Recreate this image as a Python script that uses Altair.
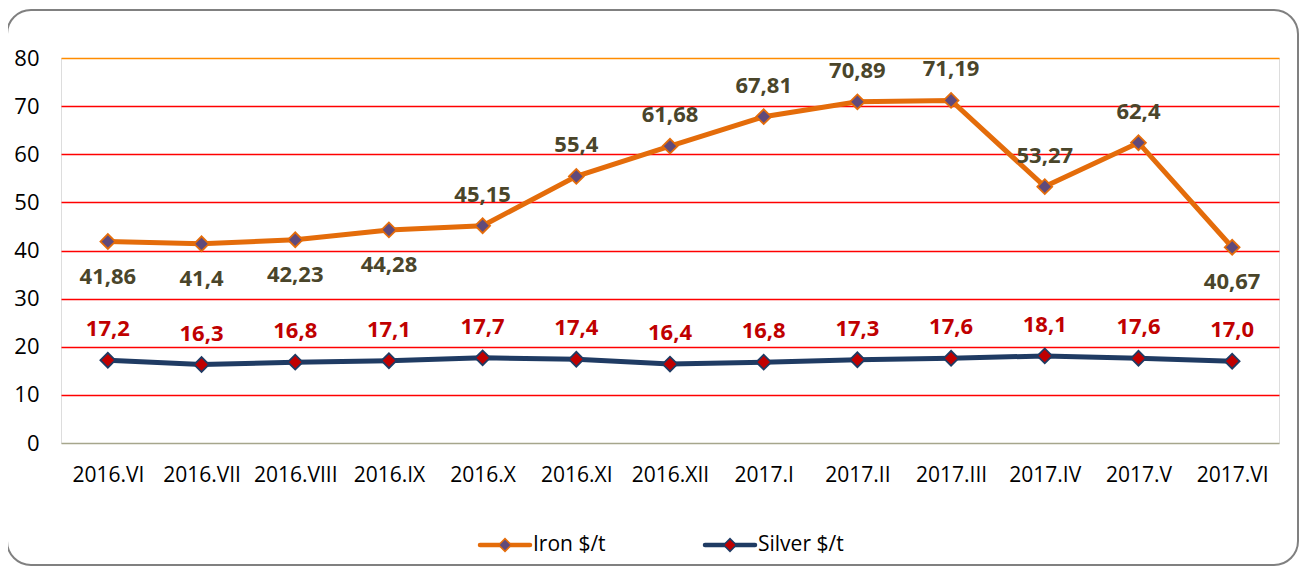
import altair as alt
import pandas as pd

months = ["2016.VI", "2016.VII", "2016.VIII", "2016.IX", "2016.X", "2016.XI", "2016.XII",
          "2017.I", "2017.II", "2017.III", "2017.IV", "2017.V", "2017.VI"]
iron = [41.86, 41.4, 42.23, 44.28, 45.15, 55.4, 61.68, 67.81, 70.89, 71.19, 53.27, 62.4, 40.67]
silver = [17.2, 16.3, 16.8, 17.1, 17.7, 17.4, 16.4, 16.8, 17.3, 17.6, 18.1, 17.6, 17.0]
iron_label_pos = ["below", "below", "below", "below", "above", "above", "above",
                  "above", "above", "above", "above", "above", "below"]
series_names = ["Iron $/t", "Silver $/t"]

line_colors = ["#E46C0A", "#1F3B63"]
marker_fills = ["#604A7B", "#C00000"]
label_colors = ["#4A452A", "#C00000"]
FONT = "Open Sans"

rows = []
for i, m in enumerate(months):
    rows.append(dict(month=m, series=series_names[0], value=iron[i],
                     label=f"{iron[i]:g}".replace(".", ","), pos=iron_label_pos[i]))
    rows.append(dict(month=m, series=series_names[1], value=silver[i],
                     label=f"{silver[i]:.1f}".replace(".", ","), pos="above"))
df = pd.DataFrame(rows)

W, H = 1218, 385

x_enc = alt.X("month:N", sort=months, scale=alt.Scale(type="point", padding=0.5),
              axis=alt.Axis(title=None, labelAngle=0, domain=False, ticks=False, grid=False,
                            labelFont=FONT, labelFontSize=21, labelColor="#000000",
                            labelPadding=21))
y_enc = alt.Y("value:Q", scale=alt.Scale(domain=[0, 80], nice=False),
              axis=alt.Axis(title=None, values=list(range(0, 81, 10)), domain=False, ticks=False,
                            labelFont=FONT, labelFontSize=22, labelColor="#000000",
                            labelPadding=22, gridWidth=1.4,
                            gridColor={"condition": [
                                {"test": "datum.value === 80", "value": "#FF8C00"},
                                {"test": "datum.value === 0", "value": "#A6A68C"}],
                                "value": "#FF0000"}))

base = alt.Chart(df)

frame = alt.Chart(pd.DataFrame({"k": [0]})).mark_rect(
    cornerRadius=24, fill="white", fillOpacity=0, stroke="#808080", strokeWidth=2
).encode(x=alt.value(-54), x2=alt.value(1237), y=alt.value(-48), y2=alt.value(507))

lines = base.mark_line(strokeWidth=5).encode(
    x=x_enc, y=y_enc,
    color=alt.Color("series:N", scale=alt.Scale(domain=series_names, range=line_colors), legend=None),
)
points = base.mark_point(shape="diamond", filled=True, size=220, strokeWidth=1.8, opacity=1).encode(
    x=x_enc, y=y_enc,
    fill=alt.Fill("series:N", scale=alt.Scale(domain=series_names, range=marker_fills), legend=None),
    stroke=alt.Stroke("series:N", scale=alt.Scale(domain=series_names, range=line_colors), legend=None),
)

def labels(series, pos, dy, color):
    return base.transform_filter(
        (alt.datum.series == series) & (alt.datum.pos == pos)
    ).mark_text(font=FONT, fontSize=22, fontWeight="bold", dy=dy, color=color).encode(
        x=x_enc, y=y_enc, text="label:N")

label_layers = [
    labels(series_names[0], "above", -31, label_colors[0]),
    labels(series_names[0], "below", 35, label_colors[0]),
    labels(series_names[1], "above", -31, label_colors[1]),
]

# legend
legend_layers = []
leg_x = [419, 644]
leg_y = 487
for name, lc, mf, lx in zip(series_names, line_colors, marker_fills, leg_x):
    one = alt.Chart(pd.DataFrame({"series": [name]}))
    legend_layers.append(one.mark_rule(strokeWidth=4.5, strokeCap="round", color=lc).encode(
        x=alt.value(lx), x2=alt.value(lx + 50), y=alt.value(leg_y)))
    legend_layers.append(one.mark_point(shape="diamond", filled=True, size=160, fill=mf,
                                        stroke=lc, strokeWidth=1.5, opacity=1).encode(
        x=alt.value(lx + 25), y=alt.value(leg_y)))
    legend_layers.append(one.mark_text(font=FONT, fontSize=21, align="left", baseline="middle",
                                       color="#000000").encode(
        x=alt.value(lx + 53), y=alt.value(leg_y), text="series:N"))

chart = alt.layer(frame, lines, points, *label_layers, *legend_layers).properties(
    width=W, height=H,
    autosize=alt.AutoSizeParams(type="none"),
    padding={"left": 53, "top": 50, "right": 21, "bottom": 125},
).configure_view(stroke="#FFFF66", strokeWidth=1.5).configure(background="white")

chart.save("out.html", embed_options={"renderer": "svg", "actions": False})
